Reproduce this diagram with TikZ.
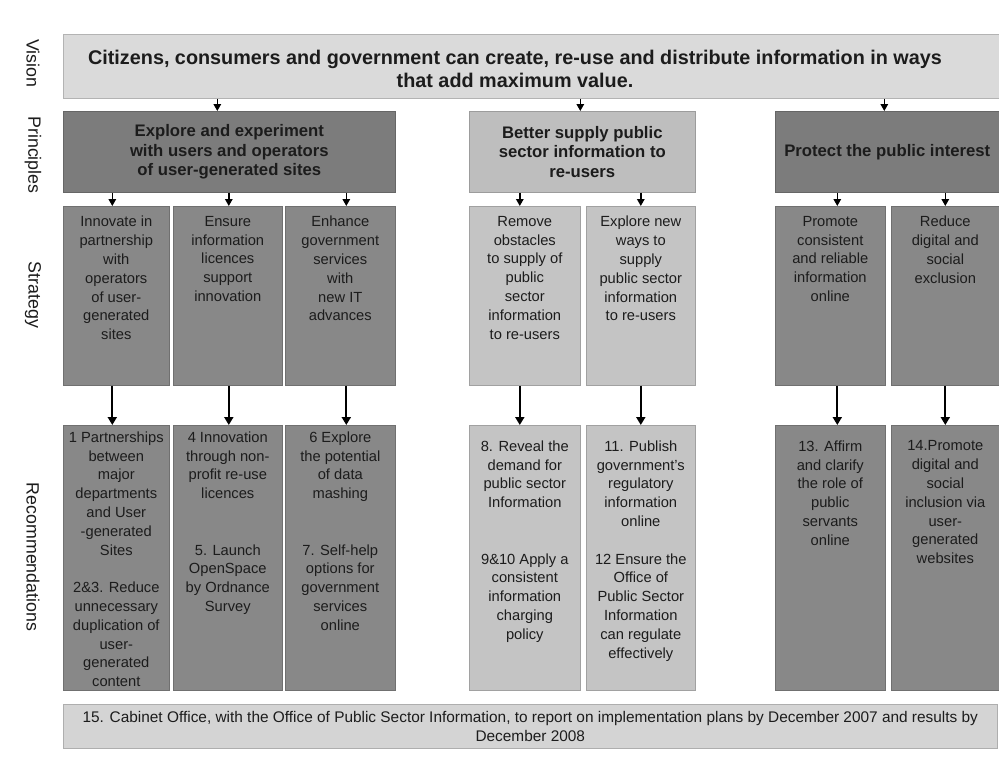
\documentclass[tikz,border=0pt]{standalone}
\usepackage{fontspec}
\setmainfont{Liberation Sans}
\usetikzlibrary{arrows.meta,calc}

\definecolor{visionfill}{RGB}{218,218,218}
\definecolor{princdark}{RGB}{124,124,124}
\definecolor{princlight}{RGB}{190,190,190}
\definecolor{boxdark}{RGB}{136,136,136}
\definecolor{boxlight}{RGB}{196,196,196}
\definecolor{bandfill}{RGB}{212,212,212}
\definecolor{inktext}{RGB}{28,28,28}

\tikzset{
  panel/.style={draw=#1!82!black, fill=#1, line width=0.6pt, inner sep=0pt,
                anchor=north west},
  rowlab/.style={rotate=-90, inner sep=0pt, text=inktext,
                 font=\fontsize{17.8}{20}\selectfont},
  visiontxt/.style={align=center, inner sep=0pt, text=inktext,
                    font=\fontsize{19.8}{23}\selectfont\bfseries},
  ptxt/.style={align=center, inner sep=0pt, text=inktext,
               font=\fontsize{16.7}{19.5}\selectfont\bfseries},
  stxt/.style={align=center, inner sep=0pt, anchor=north, text=inktext,
               font=\fontsize{14.7}{18.8}\selectfont},
  btxt/.style={align=center, inner sep=0pt, text=inktext,
               font=\fontsize{15.4}{19}\selectfont},
  arr/.style={line width=1.4pt, -{Triangle[width=7.5pt,length=7pt]}},
  arrlong/.style={line width=2pt, -{Triangle[width=9pt,length=8pt]}},
}

\begin{document}
\begin{tikzpicture}[x=1pt,y=1pt]
\useasboundingbox[fill=white] (0,0) rectangle (999,-763);

% row labels
\node[rowlab] (lvision) at (33,-63.5) {Vision};
\node[rowlab] (lprinc)  at (33,-155)  {Principles};
\node[rowlab] (lstrat)  at (33,-295)  {Strategy};
\node[rowlab] (lrec)    at (33,-557)  {Recommendations};

% vision
\node[panel=visionfill, minimum width=936pt, minimum height=64pt] (vision) at (63,-34) {};
\node[visiontxt] (visiontext) at (515,-68.5)
  {Citizens, consumers and government can create, re-use and distribute information in ways\\that add maximum value.};

% principles
\node[panel=princdark, minimum width=332pt, minimum height=81pt] (p1) at (63,-111) {};
\node[ptxt] (p1t) at (p1.center) {Explore and experiment\\with users and operators\\of user-generated sites};
\node[panel=princlight, minimum width=226pt, minimum height=81pt] (p2) at (469,-111) {};
\node[ptxt] (p2t) at (p2.center) {Better supply public\\sector information to\\re-users};
\node[panel=princdark, minimum width=224pt, minimum height=81pt] (p3) at (775,-111) {};
\node[ptxt] (p3t) at (p3.center) {Protect the public interest};

% strategy
\node[panel=boxdark,  minimum width=106pt, minimum height=179pt] (s1) at (63,-206)  {};
\node[panel=boxdark,  minimum width=109pt, minimum height=179pt] (s2) at (173,-206) {};
\node[panel=boxdark,  minimum width=110pt, minimum height=179pt] (s3) at (285,-206) {};
\node[panel=boxlight, minimum width=111pt, minimum height=179pt] (s4) at (469,-206) {};
\node[panel=boxlight, minimum width=109pt, minimum height=179pt] (s5) at (586,-206) {};
\node[panel=boxdark,  minimum width=110pt, minimum height=179pt] (s6) at (775,-206) {};
\node[panel=boxdark,  minimum width=108pt, minimum height=179pt] (s7) at (891,-206) {};

\node[stxt] (s1t) at ($(s1.north)+(0,-10)$) {Innovate in\\partnership\\with\\operators\\of user-\\generated\\sites};
\node[stxt] (s2t) at ($(s2.north)+(0,-10)$) {Ensure\\information\\licences\\support\\innovation};
\node[stxt] (s3t) at ($(s3.north)+(0,-10)$) {Enhance\\government\\services\\with\\new IT\\advances};
\node[stxt] (s4t) at ($(s4.north)+(0,-10)$) {Remove\\obstacles\\to supply of\\public\\sector\\information\\to re-users};
\node[stxt] (s5t) at ($(s5.north)+(0,-10)$) {Explore new\\ways to\\supply\\public sector\\information\\to re-users};
\node[stxt] (s6t) at ($(s6.north)+(0,-10)$) {Promote\\consistent\\and reliable\\information\\online};
\node[stxt] (s7t) at ($(s7.north)+(0,-10)$) {Reduce\\digital and\\social\\exclusion};

% recommendations
\node[panel=boxdark,  minimum width=106pt, minimum height=265pt] (r1) at (63,-425)  {};
\node[panel=boxdark,  minimum width=109pt, minimum height=265pt] (r2) at (173,-425) {};
\node[panel=boxdark,  minimum width=110pt, minimum height=265pt] (r3) at (285,-425) {};
\node[panel=boxlight, minimum width=111pt, minimum height=265pt] (r4) at (469,-425) {};
\node[panel=boxlight, minimum width=109pt, minimum height=265pt] (r5) at (586,-425) {};
\node[panel=boxdark,  minimum width=110pt, minimum height=265pt] (r6) at (775,-425) {};
\node[panel=boxdark,  minimum width=108pt, minimum height=265pt] (r7) at (891,-425) {};

\node[stxt] (r1t) at ($(r1.north)+(0,-6.5)$) {1 Partnerships\\between\\major\\departments\\and User\\-generated\\Sites\\[18.8pt]2\&3. Reduce\\unnecessary\\duplication of\\user-\\generated\\content};
\node[stxt] (r2t) at ($(r2.north)+(0,-6.5)$) {4 Innovation\\through non-\\profit re-use\\licences\\[37.6pt]5. Launch\\OpenSpace\\by Ordnance\\Survey};
\node[stxt] (r3t) at ($(r3.north)+(0,-6.5)$) {6 Explore\\the potential\\of data\\mashing\\[37.6pt]7. Self-help\\options for\\government\\services\\online};
\node[stxt] (r4t) at ($(r4.north)+(0,-15.5)$) {8. Reveal the\\demand for\\public sector\\Information\\[37.6pt]9\&10 Apply a\\consistent\\information\\charging\\policy};
\node[stxt] (r5t) at ($(r5.north)+(0,-15.5)$) {11. Publish\\government's\\regulatory\\information\\online\\[18.8pt]12 Ensure the\\Office of\\Public Sector\\Information\\can regulate\\effectively};
\node[stxt] (r6t) at ($(r6.north)+(0,-15.5)$) {13. Affirm\\and clarify\\the role of\\public\\servants\\online};
\node[stxt] (r7t) at ($(r7.north)+(0,-15.5)$) {14.Promote\\digital and\\social\\inclusion via\\user-\\generated\\websites};

% closing recommendation band
\node[panel=bandfill, minimum width=934pt, minimum height=44pt] (band) at (63,-704) {};
\node[btxt] (bandt) at (band.center)
  {15. Cabinet Office, with the Office of Public Sector Information, to report on implementation plans by December 2007 and results by\\December 2008};

% vision -> principles
\draw[arr] ($(p1.north |- vision.south)+(-12,0)$) -- ($(p1.north)+(-12,0)$);
\draw[arr] ($(p2.north |- vision.south)+(-2,0)$)  -- ($(p2.north)+(-2,0)$);
\draw[arr] ($(p3.north |- vision.south)+(-3,0)$)  -- ($(p3.north)+(-3,0)$);

% principles -> strategy
\draw[arr] ($(s1.north |- p1.south)+(-4,0)$) -- ($(s1.north)+(-4,0)$);
\draw[arr] ($(s2.north |- p1.south)+(1,0)$)  -- ($(s2.north)+(1,0)$);
\draw[arr] ($(s3.north |- p1.south)+(6,0)$)  -- ($(s3.north)+(6,0)$);
\draw[arr] ($(s4.north |- p2.south)+(-5,0)$) -- ($(s4.north)+(-5,0)$);
\draw[arr] ($(s5.north |- p2.south)+(0,0)$)  -- ($(s5.north)+(0,0)$);
\draw[arr] ($(s6.north |- p3.south)+(7,0)$)  -- ($(s6.north)+(7,0)$);
\draw[arr] ($(s7.north |- p3.south)+(0,0)$)  -- ($(s7.north)+(0,0)$);

% strategy -> recommendations
\draw[arrlong] ($(s1.south)+(-4,0)$) -- ($(r1.north)+(-4,0)$);
\draw[arrlong] ($(s2.south)+(1,0)$)  -- ($(r2.north)+(1,0)$);
\draw[arrlong] ($(s3.south)+(6,0)$)  -- ($(r3.north)+(6,0)$);
\draw[arrlong] ($(s4.south)+(-5,0)$) -- ($(r4.north)+(-5,0)$);
\draw[arrlong] ($(s5.south)+(0,0)$)  -- ($(r5.north)+(0,0)$);
\draw[arrlong] ($(s6.south)+(7,0)$)  -- ($(r6.north)+(7,0)$);
\draw[arrlong] ($(s7.south)+(0,0)$)  -- ($(r7.north)+(0,0)$);
\end{tikzpicture}
\end{document}
